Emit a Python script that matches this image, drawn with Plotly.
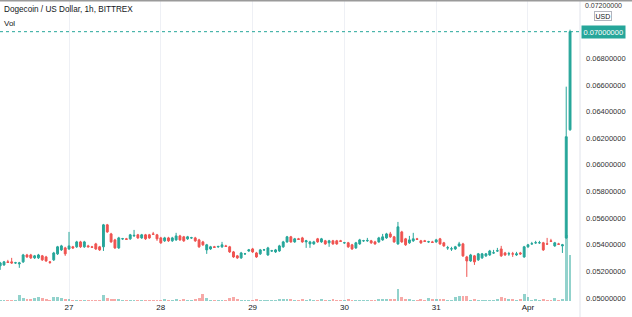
import pandas as pd
import plotly.graph_objects as go

# Hourly candles, Mar 26 06:00 -> Apr 1 11:00 (150 candles)
time = pd.date_range("2021-03-26 06:00", periods=150, freq="h")

open_ = [
    .05241, .05248, .05271, .05271, .05263, .05256, .05271, .05323, .05323, .05301,
    .05301, .05316, .05308, .05271, .05286, .05331, .05361, .05376, .05368, .05384,
    .05384, .05421, .05384, .05391, .05384, .05406, .05384, .05384, .05549, .05481,
    .05436, .05376, .05444, .05444, .05444, .05466, .05474, .05451, .05474, .05474,
    .05481, .05474, .05451, .05429, .05451, .05429, .05436, .05466, .05459, .05444,
    .05451, .05451, .05436, .05421, .05361, .05368, .05384, .05384, .05384, .05391,
    .05384, .05346, .05316, .05301, .05331, .05353, .05368, .05338, .05331, .05361,
    .05323, .05353, .05346, .05353, .05384, .05421, .05459, .05421, .05444, .05451,
    .05421, .05406, .05406, .05444, .05421, .05429, .05414, .05429, .05429, .05429,
    .05414, .05414, .05399, .05376, .05406, .05429, .05429, .05429, .05421, .05421,
    .05436, .05451, .05481, .05459, .05406, .05496, .05444, .05414, .05429, .05444,
    .05429, .05429, .05421, .05421, .05421, .05444, .05414, .05376, .05368, .05368,
    .05391, .05406, .05308, .05278, .05316, .05286, .05301, .05316, .05323, .05338,
    .05353, .05368, .05338, .05331, .05331, .05323, .05338, .05308, .05384, .05406,
    .05414, .05414, .05414, .05406, .05429, .05391, .05406, .05391, .05451, .06263,
]
high = [
    .05271, .05278, .05286, .05301, .05271, .05271, .05331, .05331, .05331, .05323,
    .05331, .05323, .05316, .05278, .05346, .05391, .05399, .05384, .05496, .05391,
    .05429, .05429, .05429, .05399, .05391, .05414, .05391, .05556, .05556, .05489,
    .05444, .05459, .05451, .05451, .05481, .05511, .05481, .05481, .05481, .05481,
    .05496, .05481, .05459, .05459, .05459, .05459, .05489, .05474, .05466, .05466,
    .05459, .05459, .05444, .05429, .05406, .05391, .05391, .05391, .05421, .05399,
    .05391, .05353, .05323, .05346, .05338, .05368, .05376, .05346, .05368, .05368,
    .05384, .05361, .05368, .05399, .05429, .05466, .05466, .05451, .05451, .05459,
    .05436, .05429, .05429, .05451, .05451, .05436, .05436, .05436, .05436, .05436,
    .05421, .05421, .05406, .05421, .05444, .05436, .05451, .05436, .05429, .05459,
    .05481, .05489, .05496, .05466, .05571, .05504, .05451, .05466, .05489, .05451,
    .05436, .05436, .05429, .05429, .05444, .05451, .05421, .05391, .05384, .05391,
    .05421, .05414, .05316, .05331, .05323, .05338, .05338, .05338, .05361, .05361,
    .05376, .05391, .05346, .05346, .05346, .05346, .05346, .05391, .05406, .05421,
    .05429, .05429, .05421, .05451, .05444, .05421, .05414, .05406, .06587, .07015,
]
low = [
    .05211, .05241, .05263, .05256, .05256, .05226, .05263, .05301, .05293, .05293,
    .05293, .05278, .05271, .05256, .05278, .05323, .05353, .05316, .05361, .05368,
    .05376, .05376, .05376, .05380, .05376, .05361, .05353, .05353, .05489, .05414,
    .05368, .05368, .05436, .05436, .05436, .05459, .05444, .05444, .05436, .05444,
    .05474, .05429, .05406, .05421, .05421, .05421, .05429, .05429, .05421, .05436,
    .05444, .05421, .05376, .05391, .05331, .05361, .05376, .05376, .05376, .05384,
    .05338, .05301, .05293, .05293, .05323, .05346, .05338, .05301, .05323, .05353,
    .05316, .05346, .05338, .05346, .05376, .05414, .05414, .05414, .05436, .05414,
    .05376, .05376, .05399, .05414, .05414, .05399, .05384, .05399, .05399, .05421,
    .05406, .05376, .05361, .05368, .05399, .05421, .05421, .05406, .05399, .05414,
    .05429, .05444, .05451, .05414, .05399, .05414, .05391, .05406, .05421, .05436,
    .05406, .05421, .05414, .05414, .05414, .05399, .05384, .05361, .05353, .05361,
    .05384, .05308, .05158, .05271, .05248, .05278, .05293, .05308, .05316, .05331,
    .05346, .05308, .05316, .05316, .05308, .05316, .05323, .05301, .05376, .05399,
    .05406, .05406, .05353, .05399, .05421, .05384, .05399, .05338, .05444, .06256,
]
close = [
    .05263, .05271, .05267, .05263, .05264, .05263, .05323, .05308, .05301, .05316,
    .05323, .05286, .05278, .05267, .05338, .05384, .05391, .05331, .05391, .05376,
    .05421, .05384, .05421, .05384, .05380, .05368, .05361, .05549, .05496, .05421,
    .05376, .05451, .05445, .05440, .05474, .05470, .05451, .05474, .05444, .05451,
    .05478, .05444, .05414, .05451, .05429, .05451, .05466, .05436, .05429, .05459,
    .05452, .05429, .05384, .05399, .05399, .05384, .05380, .05387, .05399, .05387,
    .05346, .05308, .05301, .05338, .05332, .05361, .05346, .05308, .05361, .05362,
    .05376, .05354, .05361, .05391, .05421, .05459, .05421, .05444, .05440, .05421,
    .05429, .05421, .05421, .05421, .05444, .05406, .05429, .05406, .05406, .05425,
    .05415, .05384, .05368, .05414, .05436, .05430, .05432, .05414, .05406, .05451,
    .05459, .05481, .05459, .05421, .05534, .05421, .05399, .05436, .05444, .05440,
    .05414, .05425, .05422, .05417, .05436, .05406, .05391, .05377, .05369, .05384,
    .05406, .05316, .05278, .05323, .05271, .05331, .05331, .05331, .05353, .05339,
    .05354, .05316, .05323, .05332, .05330, .05331, .05331, .05384, .05399, .05407,
    .05415, .05415, .05361, .05405, .05425, .05414, .05403, .05399, .06211, .07000,
]
volume = [
    3, 3, 3, 3, 3, 12, 6, 4, 4, 6,
    8, 6, 4, 2, 8, 8, 6, 4, 4, 3,
    2, 3, 3, 2, 2, 3, 3, 12, 6, 4,
    4, 4, 2, 2, 3, 2, 3, 2, 3, 2,
    2, 3, 3, 4, 3, 3, 4, 3, 4, 2,
    3, 4, 6, 14, 6, 3, 2, 3, 3, 2,
    6, 8, 4, 3, 3, 2, 3, 4, 3, 2,
    3, 2, 3, 4, 4, 5, 4, 3, 3, 4,
    3, 4, 3, 3, 4, 3, 3, 4, 3, 3,
    3, 4, 3, 3, 2, 3, 3, 3, 3, 4,
    4, 5, 4, 4, 24, 8, 4, 4, 3, 3,
    4, 3, 6, 4, 4, 4, 4, 3, 3, 8,
    10, 10, 10, 3, 4, 3, 3, 3, 3, 3,
    4, 8, 6, 4, 4, 3, 4, 14, 8, 3,
    4, 3, 4, 3, 3, 6, 3, 4, 132, 92,
]

day_ticks = ["2021-03-27", "2021-03-28", "2021-03-29", "2021-03-30", "2021-03-31", "2021-04-01"]
day_labels = ["27", "28", "29", "30", "31", "Apr"]
# 0.070 is shown by the highlighted last-price label; 0.072 is drawn at the top edge
price_ticks = [0.050, 0.052, 0.054, 0.056, 0.058, 0.060, 0.062, 0.064, 0.066, 0.068]
top_tick_label = "0.07200000"
last_price = 0.070

UP = "#26a69a"
DOWN = "#ef5350"
UP_VOL = "rgba(38,166,154,0.5)"
DOWN_VOL = "rgba(239,83,80,0.5)"
FONT = "Liberation Sans"
TXT = "#131722"

vol_colors = [UP_VOL if c >= o else DOWN_VOL for o, c in zip(open_, close)]

fig = go.Figure()
fig.add_trace(go.Bar(
    x=time, y=volume, yaxis="y",
    marker=dict(color=vol_colors, line=dict(width=0)),
    width=3600000 * 0.75, hoverinfo="skip",
))
fig.add_trace(go.Candlestick(
    x=time, open=open_, high=high, low=low, close=close, yaxis="y2",
    increasing=dict(line=dict(color=UP, width=1), fillcolor=UP),
    decreasing=dict(line=dict(color=DOWN, width=1), fillcolor=DOWN),
    whiskerwidth=0,
))

fig.update_layout(
    width=632, height=317,
    margin=dict(l=0, r=52, t=0, b=16),
    paper_bgcolor="white", plot_bgcolor="white",
    showlegend=False,
    font=dict(family=FONT, color=TXT),
    xaxis=dict(
        type="date",
        range=["2021-03-26 05:57", "2021-04-01 13:36"],
        rangeslider=dict(visible=False),
        tickvals=day_ticks, ticktext=day_labels,
        showgrid=True, gridcolor="#eef0f5", gridwidth=1,
        ticks="", tickfont=dict(size=8, color=TXT, family=FONT),
        zeroline=False, showline=False, fixedrange=True,
    ),
    yaxis=dict(range=[0, 602], visible=False, fixedrange=True),
    yaxis2=dict(
        overlaying="y", side="right",
        range=[0.04977, 0.07238],
        tickvals=price_ticks, tickformat=".8f",
        showgrid=False, zeroline=False, showline=False,
        ticks="", ticklabelstandoff=5,
        tickfont=dict(size=7.5, color="#333333", family=FONT),
        fixedrange=True,
    ),
    bargap=0,
    shapes=[
        dict(type="line", xref="paper", x0=0, x1=1, yref="y2", y0=last_price, y1=last_price,
             line=dict(color=UP, width=1, dash="dot")),
        dict(type="line", xref="paper", x0=1, x1=1, yref="paper", y0=-0.06, y1=1,
             line=dict(color="#e0e3eb", width=1)),
        dict(type="line", xref="paper", x0=0, x1=1.1, yref="paper", y0=1, y1=1,
             line=dict(color="#9a9a9a", width=3)),
    ],
    annotations=[
        dict(text="Dogecoin / US Dollar, 1h, BITTREX", xref="paper", yref="paper",
             x=0, y=1, xanchor="left", yanchor="top", xshift=2, yshift=-3,
             showarrow=False, font=dict(size=8.2, color=TXT, family=FONT)),
        dict(text="Vol", xref="paper", yref="paper",
             x=0, y=1, xanchor="left", yanchor="top", xshift=2, yshift=-17,
             showarrow=False, font=dict(size=8, color=TXT, family=FONT)),
        dict(text=top_tick_label, xref="paper", yref="paper", x=1, y=1,
             xanchor="left", yanchor="top", xshift=4, yshift=-1, showarrow=False,
             borderpad=0, font=dict(size=7, color="#333333", family=FONT)),
        dict(text="0.07000000", xref="paper", yref="y2", x=1, y=last_price,
             xanchor="left", yanchor="middle", xshift=1, showarrow=False,
             bgcolor=UP, borderpad=1.5, font=dict(size=7.5, color="white", family=FONT)),
        dict(text="USD", xref="paper", yref="paper", x=1, y=1,
             xanchor="left", yanchor="top", xshift=14, yshift=-11, showarrow=False,
             bgcolor="white", bordercolor="#b2b5be", borderwidth=1, borderpad=0.5,
             font=dict(size=7, color=TXT, family=FONT)),
    ],
)

fig.write_html("out.html")
